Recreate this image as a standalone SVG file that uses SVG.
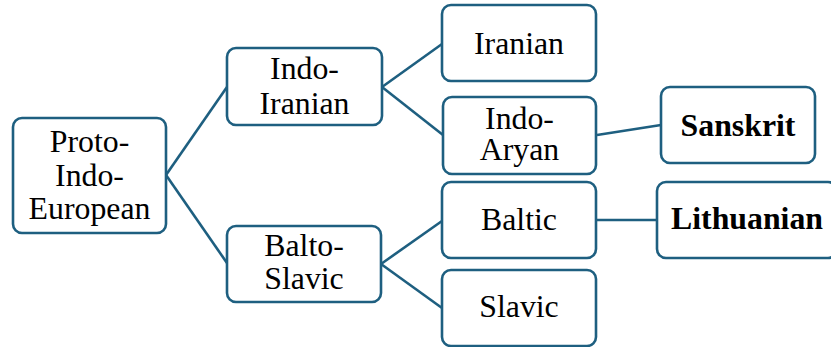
<svg xmlns="http://www.w3.org/2000/svg" width="831" height="347" viewBox="0 0 831 347">
<style>
.box{fill:#ffffff;stroke:#1e5f80;stroke-width:2.6}
.ln{fill:none;stroke:#1e5f80;stroke-width:2.6}
text{font-family:"Liberation Serif","Times New Roman",serif;font-size:31.8px;fill:#000;text-anchor:middle}
.b{font-weight:bold}
</style>
<rect width="831" height="347" fill="#ffffff"/>
<g id="connectors">
<line class="ln" x1="166" y1="175" x2="227" y2="87"/>
<line class="ln" x1="166" y1="175" x2="227" y2="263"/>
<line class="ln" x1="382" y1="87" x2="442" y2="44"/>
<line class="ln" x1="382" y1="87" x2="443" y2="135"/>
<line class="ln" x1="597" y1="135" x2="661" y2="125"/>
<line class="ln" x1="381" y1="264" x2="442" y2="221"/>
<line class="ln" x1="381" y1="264" x2="442" y2="308"/>
<line class="ln" x1="596" y1="220" x2="657" y2="220"/>
</g>
<g id="pie">
<rect class="box" x="13" y="118" width="153" height="115" rx="9"/>
<text x="89.5" y="152">Proto-</text>
<text x="89.5" y="185.5">Indo-</text>
<text x="89.5" y="218.5">European</text>
</g>
<g id="indo-iranian">
<rect class="box" x="227" y="48" width="155" height="77" rx="9"/>
<text x="304.5" y="79">Indo-</text>
<text x="304.5" y="114">Iranian</text>
</g>
<g id="balto-slavic">
<rect class="box" x="227" y="226" width="154" height="76" rx="9"/>
<text x="304" y="256">Balto-</text>
<text x="304" y="288.5">Slavic</text>
</g>
<g id="iranian">
<rect class="box" x="442" y="5" width="154" height="76" rx="9"/>
<text x="519" y="53.5">Iranian</text>
</g>
<g id="indo-aryan">
<rect class="box" x="443" y="97" width="153" height="77" rx="9"/>
<text x="519.5" y="128.5">Indo-</text>
<text x="519.5" y="160">Aryan</text>
</g>
<g id="baltic">
<rect class="box" x="442" y="182" width="154" height="76" rx="9"/>
<text x="519" y="230">Baltic</text>
</g>
<g id="slavic">
<rect class="box" x="442" y="270" width="154" height="76" rx="9"/>
<text x="519" y="317">Slavic</text>
</g>
<g id="sanskrit">
<rect class="box" x="661" y="87" width="154" height="76" rx="9"/>
<text class="b" x="738" y="135.5">Sanskrit</text>
</g>
<g id="lithuanian">
<rect class="box" x="657" y="182" width="180" height="76" rx="9"/>
<text class="b" x="747" y="228.5">Lithuanian</text>
</g>
</svg>
